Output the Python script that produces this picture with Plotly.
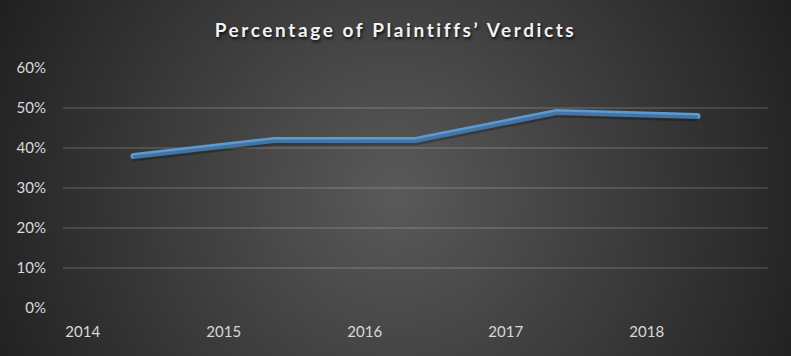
import base64, struct, zlib
import numpy as np
import plotly.graph_objects as go

# ---- data ----
years = ["2014", "2015", "2016", "2017", "2018"]
plaintiff_pct = [0.38, 0.42, 0.42, 0.49, 0.48]
y_ticks = [0, 0.1, 0.2, 0.3, 0.4, 0.5, 0.6]
title_text = "Percentage of Plaintiffs’ Verdicts"

W, H = 791, 356
ML, MR, MT, MB = 63, 23, 68, 48
PW, PH = W - ML - MR, H - MT - MB

# ---- radial background gradient as a PNG ----
def make_png(w, h, cx, cy, c0, k):
    yy, xx = np.mgrid[0:h, 0:w]
    d = np.sqrt((xx - cx) ** 2 + (yy - cy) ** 2)
    v = np.clip(c0 - k * d, 28, 255).astype(np.uint8)
    raw = b"".join(b"\x00" + v[r].tobytes() for r in range(h))
    def chunk(t, data):
        c = struct.pack(">I", len(data)) + t + data
        return c + struct.pack(">I", zlib.crc32(t + data) & 0xFFFFFFFF)
    png = b"\x89PNG\r\n\x1a\n"
    png += chunk(b"IHDR", struct.pack(">IIBBBBB", w, h, 8, 0, 0, 0, 0))
    png += chunk(b"IDAT", zlib.compress(raw, 9))
    png += chunk(b"IEND", b"")
    return "data:image/png;base64," + base64.b64encode(png).decode()

bg = make_png(W, H, 395, 195, 90, 0.13)

n = len(years)
xpos = [i + 0.5 for i in range(n)]
tickpos = [i + 0.14 for i in range(n)]

fig = go.Figure()
# soft shadow under the line (same data on a slightly offset overlay axis)
fig.add_trace(go.Scatter(x=xpos, y=plaintiff_pct, mode="lines", yaxis="y2",
                         line=dict(color="rgba(0,0,0,0.25)", width=6),
                         hoverinfo="skip", showlegend=False))
fig.add_trace(go.Scatter(x=xpos, y=plaintiff_pct, mode="lines+markers",
                         line=dict(color="#5b9bd5", width=6),
                         marker=dict(color="#5b9bd5", size=6, line=dict(width=0)),
                         showlegend=False))

axis_font = dict(family="Lato, 'Open Sans', sans-serif", size=15, color="#d9d9d9")
fig.update_layout(
    width=W, height=H,
    margin=dict(l=ML, r=MR, t=MT, b=MB),
    paper_bgcolor="#2a2a2a",
    plot_bgcolor="rgba(0,0,0,0)",
    title=dict(text='<span style="letter-spacing:2.6px">' + title_text + '</span>',
               x=0.5, xanchor="center", y=1 - 30 / H, yanchor="middle",
               font=dict(family="Lato, sans-serif", size=19, color="#f2f2f2", weight="bold",
                         shadow="1px 2px 3px rgba(0,0,0,0.8)")),
    xaxis=dict(range=[0, n], tickmode="array", tickvals=tickpos, ticktext=years,
               showgrid=False, zeroline=False, showline=False, ticks="",
               tickfont=axis_font, ticklabelstandoff=13, fixedrange=True),
    yaxis=dict(range=[0, 0.6], tickmode="array", tickvals=y_ticks, tickformat=".0%",
               showgrid=True, gridcolor="rgba(255,255,255,0.13)", gridwidth=1.5,
               zeroline=False, showline=False, ticks="",
               tickfont=axis_font, ticklabelstandoff=16, fixedrange=True),
    yaxis2=dict(range=[0 + 0.6 * 2.5 / PH, 0.6 + 0.6 * 2.5 / PH], overlaying="y",
                visible=False, fixedrange=True),
    images=[dict(source=bg, xref="paper", yref="paper",
                 x=-ML / PW, y=1 + MT / PH, sizex=W / PW, sizey=H / PH,
                 xanchor="left", yanchor="top", sizing="stretch", layer="below")],
)

fig.write_html("out.html", config={"displayModeBar": False},
               post_script="document.body.style.margin='0';document.body.style.overflow='hidden';")
